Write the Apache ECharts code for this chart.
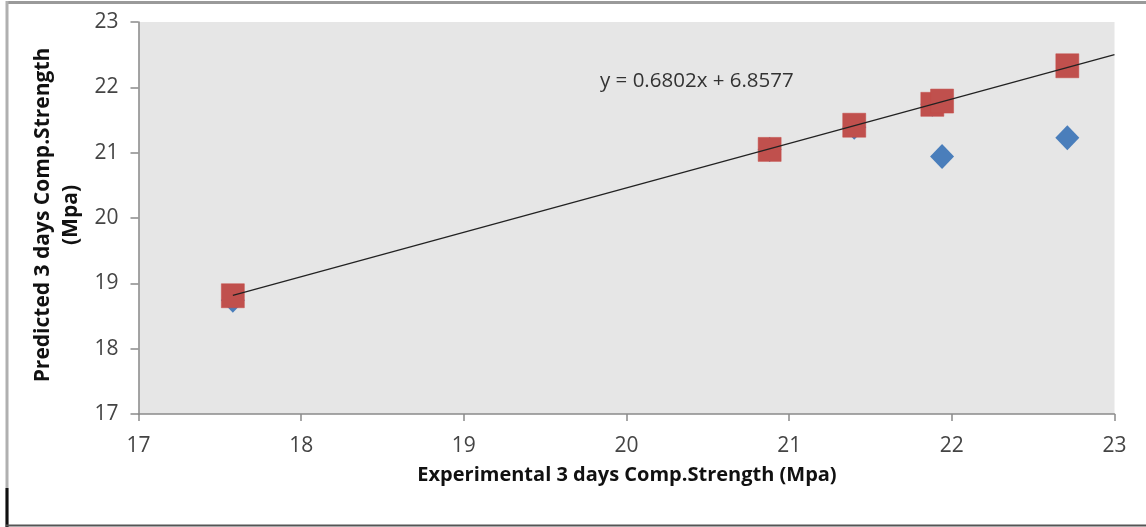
<!DOCTYPE html>
<html>
<head>
<meta charset="utf-8">
<script src="https://cdn.jsdelivr.net/npm/echarts@6/dist/echarts.min.js"></script>
<style>
html,body{margin:0;padding:0;background:#fff;}
#chart{width:1146px;height:527px;}
</style>
</head>
<body>
<div id="chart"></div>
<script>
// Data
var experimental = [17.58, 20.88, 21.40, 21.88, 21.94, 22.71];
var predictedBlue = [18.74, 21.05, 21.39, 21.74, 20.94, 21.23];
var predictedRed = [18.81, 21.05, 21.42, 21.74, 21.79, 22.33];
var xTicks = [17, 18, 19, 20, 21, 22, 23];
var yTicks = [17, 18, 19, 20, 21, 22, 23];
var trendSlope = 0.6802;
var trendIntercept = 6.8577;
var trendRange = [17.58, 23];
var equationText = 'y = 0.6802x + 6.8577';
var xTitle = 'Experimental 3 days Comp.Strength (Mpa)';
var yTitleLines = ['Predicted 3 days Comp.Strength', '(Mpa)'];

var blueData = experimental.map(function (x, i) { return [x, predictedBlue[i]]; });
var redData = experimental.map(function (x, i) { return [x, predictedRed[i]]; });
var trendData = trendRange.map(function (x) { return [x, trendSlope * x + trendIntercept]; });

var FONT = 'Open Sans';
var chart = echarts.init(document.getElementById('chart'), null, {renderer: 'canvas'});
chart.setOption({
  animation: false,
  backgroundColor: '#ffffff',
  grid: {left: 138.5, right: 31.5, top: 22, bottom: 113, show: true, backgroundColor: '#e6e6e6', borderWidth: 0},
  xAxis: {
    type: 'value', min: xTicks[0], max: xTicks[xTicks.length - 1], interval: 1,
    axisLine: {show: true, lineStyle: {color: '#8a8a8a', width: 1.5}},
    axisTick: {show: true, inside: false, length: 7, lineStyle: {color: '#8a8a8a', width: 1.5}},
    splitLine: {show: false},
    axisLabel: {fontFamily: FONT, fontSize: 21, color: '#444', margin: 22}
  },
  yAxis: {
    type: 'value', min: yTicks[0], max: yTicks[yTicks.length - 1], interval: 1,
    axisLine: {show: true, lineStyle: {color: '#8a8a8a', width: 1.5}},
    axisTick: {show: true, inside: false, length: 8, lineStyle: {color: '#8a8a8a', width: 1.5}},
    splitLine: {show: false},
    axisLabel: {fontFamily: FONT, fontSize: 21, color: '#444', margin: 20}
  },
  series: [
    {type: 'scatter', name: 'blue', data: blueData, symbol: 'diamond', symbolSize: [24, 25],
     itemStyle: {color: '#4a7ebb', opacity: 1}, z: 2},
    {type: 'scatter', name: 'red', data: redData, symbol: 'rect', symbolSize: [23, 24],
     itemStyle: {color: '#c0504d', opacity: 1, borderColor: '#c44a47', borderWidth: 0.5}, z: 3},
    {type: 'line', name: 'trend', data: trendData, symbol: 'none', z: 4,
     lineStyle: {color: '#222', width: 1.3}}
  ],
  graphic: [
    {type: 'text', left: 600, top: 71, z: 10,
     style: {text: equationText, fontFamily: FONT, fontSize: 20.5, fill: '#333'}},
    {type: 'text', x: 627, y: 475, z: 10,
     style: {text: xTitle, fontFamily: FONT, fontSize: 20, fontWeight: 'bold', fill: '#111', align: 'center', verticalAlign: 'middle'}},
    {type: 'text', x: 43, y: 215, rotation: Math.PI / 2, z: 10,
     style: {text: yTitleLines[0], fontFamily: FONT, fontSize: 21, fontWeight: 'bold', fill: '#111', align: 'center', verticalAlign: 'middle'}},
    {type: 'text', x: 71, y: 215, rotation: Math.PI / 2, z: 10,
     style: {text: yTitleLines[1], fontFamily: FONT, fontSize: 21, fontWeight: 'bold', fill: '#111', align: 'center', verticalAlign: 'middle'}},
    // frame lines
    {type: 'line', z: 20, shape: {x1: 6, y1: 2.5, x2: 1146, y2: 2.5}, style: {stroke: '#9a9a9a', lineWidth: 3}},
    {type: 'line', z: 20, shape: {x1: 7, y1: 1, x2: 7, y2: 527}, style: {stroke: '#b0b0b0', lineWidth: 3}},
    {type: 'line', z: 21, shape: {x1: 7, y1: 488, x2: 7, y2: 527}, style: {stroke: '#111', lineWidth: 3}},
    {type: 'line', z: 21, shape: {x1: 6, y1: 525.5, x2: 1146, y2: 525.5}, style: {stroke: '#555', lineWidth: 2}}
  ]
});
</script>
</body>
</html>
